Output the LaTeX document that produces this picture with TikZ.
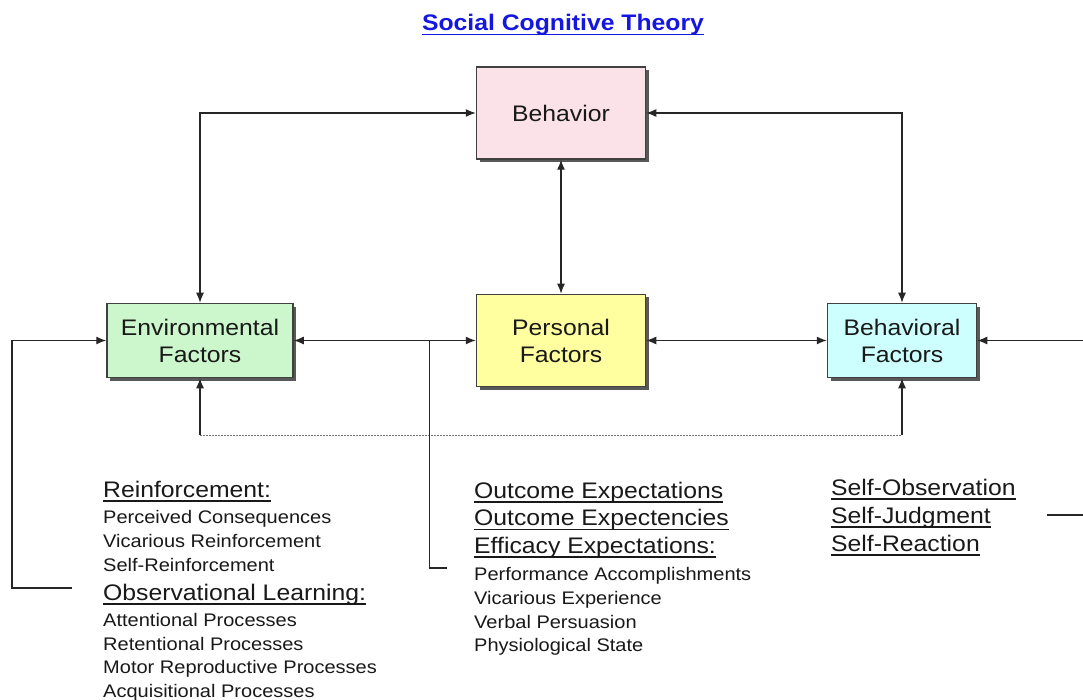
\documentclass[tikz,border=0pt]{standalone}
\usepackage{fontspec}
\setmainfont{Liberation Sans}[FakeStretch=1.1]
\usetikzlibrary{arrows.meta,shadows}

\definecolor{behpink}{RGB}{250,226,232}
\definecolor{envgreen}{RGB}{204,247,204}
\definecolor{persyellow}{RGB}{255,255,160}
\definecolor{behcyan}{RGB}{206,255,255}
\definecolor{titleblue}{RGB}{22,22,225}
\definecolor{txtgray}{RGB}{25,25,25}

\newcommand{\myul}[1]{\setbox0\hbox{#1}\rlap{\rule[-4.5pt]{\wd0}{1.3pt}}\box0}

\begin{document}
\begin{tikzpicture}[x=1pt, y=-1pt, >={Latex[length=10pt,width=8pt]}]
		\tikzset{bx/.style={draw=black!75, line width=1.5pt, inner sep=0pt, align=center,
				text=txtgray, font=\fontsize{22.5}{27}\selectfont,
				drop shadow={shadow xshift=3pt, shadow yshift=-3pt, fill=black!65, opacity=1}}};
		\tikzset{hd/.style={anchor=base west, inner sep=0pt, text=txtgray, font=\fontsize{22.5}{25}\selectfont}};
		\tikzset{it/.style={anchor=base west, inner sep=0pt, text=txtgray, font=\fontsize{18.2}{20}\selectfont}};
		\tikzset{ln/.style={line width=1.3pt, draw=black!85}};

		\useasboundingbox[fill=white] (0,0) rectangle (1083,700);

		\node[anchor=base, inner sep=0pt, text=titleblue, font=\bfseries\fontsize{22.5}{25}\selectfont] (title) at (563,31) {\myul{Social Cognitive Theory}};

		\node[bx, fill=behpink, minimum width=169pt, minimum height=92pt] (beh) at (561,113) {Behavior};
		\node[bx, fill=envgreen, minimum width=186pt, minimum height=74pt] (env) at (200,340.5) {Environmental\\Factors};
		\node[bx, fill=persyellow, minimum width=169pt, minimum height=92pt] (pers) at (561,340.5) {Personal\\Factors};
		\node[bx, fill=behcyan, minimum width=149pt, minimum height=74pt] (behf) at (902,340.5) {Behavioral\\Factors};

		\coordinate (lowl) at (200,435);
		\coordinate (lowr) at (902,435);
		\coordinate (leftcorner) at (12,588);
		\coordinate (obsend) at (72,588);
		\coordinate (midtop) at (429.5,340.5);
		\coordinate (midend) at (447,568);
		\coordinate (rightin) at (1083,340.5);
		\coordinate (stubl) at (1047,515);
		\coordinate (stubr) at (1083,515);

		\draw[ln, <->] (env.north) |- (beh.west);
		\draw[ln, <->] (behf.north) |- (beh.east);
		\draw[ln, <->] (beh.south) -- (pers.north);
		\draw[ln, <->] (env.east) -- (pers.west);
		\draw[ln, <->] (pers.east) -- (behf.west);

		\draw[ln, ->] (lowl) -- (env.south);
		\draw[ln, ->] (lowr) -- (behf.south);
		\draw[line width=0.9pt, draw=black!55, dash pattern=on 2pt off 1pt] (lowl) -- (lowr);

		\draw[ln, ->] (obsend) -- (leftcorner) |- (env.west);
		\draw[ln] (midtop) |- (midend);
		\draw[ln, ->] (rightin) -- (behf.east);
		\draw[ln] (stubl) -- (stubr);

		\node[hd] (reinf) at (103,497) {\myul{Reinforcement:}};
		\node[it] (perc) at (103,523.5) {Perceived Consequences};
		\node[it] (vicr) at (103,547.5) {Vicarious Reinforcement};
		\node[it] (selfr) at (103,571.5) {Self-Reinforcement};
		\node[hd] (obs) at (103,600) {\myul{Observational Learning:}};
		\node[it] (att) at (103,626.5) {Attentional Processes};
		\node[it] (ret) at (103,650.5) {Retentional Processes};
		\node[it] (mot) at (103,673.5) {Motor Reproductive Processes};
		\node[it] (acq) at (103,697) {Acquisitional Processes};

		\node[hd] (outexp) at (474,498) {\myul{Outcome Expectations}};
		\node[hd] (outexc) at (474,525.5) {\myul{Outcome Expectencies}};
		\node[hd] (effexp) at (474,553) {\myul{Efficacy Expectations:}};
		\node[it] (perf) at (474,580.5) {Performance Accomplishments};
		\node[it] (vice) at (474,604.5) {Vicarious Experience};
		\node[it] (verb) at (474,628) {Verbal Persuasion};
		\node[it] (phys) at (474,651.5) {Physiological State};

		\node[hd] (sobs) at (831,495) {\myul{Self-Observation}};
		\node[hd] (sjud) at (831,523) {\myul{Self-Judgment}};
		\node[hd] (sreac) at (831,551) {\myul{Self-Reaction}};

	\end{tikzpicture}
\end{document}
